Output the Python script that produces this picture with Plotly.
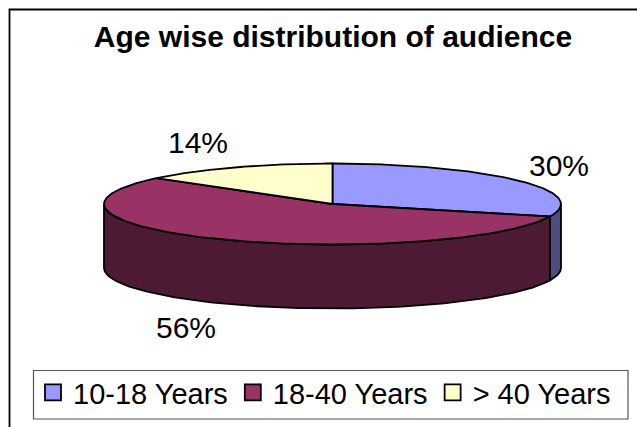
import numpy as np
import plotly.graph_objects as go

categories = ["10-18 Years", "18-40 Years", "> 40 Years"]
shares = [30, 56, 14]
top_colors = ["#9999FF", "#993366", "#FFFFCC"]
side_colors = ["#4D4D80", "#4D1A33", "#80805F"]
title = "Age wise distribution of audience"

W, H = 637, 427
cx, cy, rx, ry, depth = 332.5, 204, 228.5, 40.5, 64
FONT = "Liberation Sans, Arial, sans-serif"
LINE = dict(color="black", width=1.8)


def rim(t):
    return cx + rx * np.sin(t), cy - ry * np.cos(t)


fig = go.Figure()
fracs = np.cumsum([0] + shares) / sum(shares) * 2 * np.pi

# side walls: only the front half of the rim is visible
for i in range(len(shares)):
    a, b = max(fracs[i], np.pi / 2), min(fracs[i + 1], 3 * np.pi / 2)
    if b <= a:
        continue
    t = np.linspace(a, b, 120)
    x, y = rim(t)
    fig.add_trace(go.Scatter(
        x=np.r_[x, x[::-1], x[0]], y=np.r_[y, y[::-1] + depth, y[0]],
        mode="lines", fill="toself", fillcolor=side_colors[i], line=LINE,
        showlegend=False, hoverinfo="skip"))

# top faces
for i in range(len(shares)):
    t = np.linspace(fracs[i], fracs[i + 1], 200)
    x, y = rim(t)
    fig.add_trace(go.Scatter(
        x=np.r_[cx, x, cx], y=np.r_[cy, y, cy],
        mode="lines", fill="toself", fillcolor=top_colors[i], line=LINE,
        showlegend=False, hoverinfo="skip"))

# percent labels
label_x, label_y = [559, 186, 198], [168, 330, 145]
fig.add_trace(go.Scatter(
    x=label_x, y=label_y, mode="text",
    text=[f"{v}%" for v in shares],
    textfont=dict(family=FONT, size=30, color="black"),
    showlegend=False, hoverinfo="skip"))

# legend entries
for name, c in zip(categories, top_colors):
    fig.add_trace(go.Scatter(
        x=[None], y=[None], mode="markers", name=name,
        marker=dict(symbol="square", size=17, color=c,
                    line=dict(color="black", width=1.8))))

fig.update_layout(
    width=W, height=H, autosize=False,
    margin=dict(l=0, r=0, t=0, b=0),
    paper_bgcolor="white", plot_bgcolor="white",
    xaxis=dict(range=[0, W], visible=False, fixedrange=True),
    yaxis=dict(range=[H, 0], visible=False, fixedrange=True),
    title=dict(text=f"<b>{title}</b>", x=333 / W, xanchor="center",
               y=1 - 36 / H, yanchor="middle",
               font=dict(family=FONT, size=30, color="black")),
    legend=dict(orientation="h", x=33 / W, xanchor="left", y=1 - 367 / H, yanchor="top",
                bgcolor="rgba(0,0,0,0)", borderwidth=0,
                font=dict(family=FONT, size=29, color="black"),
                itemwidth=30, traceorder="normal"),
    shapes=[
        dict(type="rect", xref="x", yref="y", x0=9.5, y0=9.5, x1=700, y1=500,
             line=dict(color="black", width=1.8), layer="below"),
        dict(type="rect", xref="x", yref="y", x0=33.5, y0=370.5, x1=628, y1=419,
             line=dict(color="#555555", width=1.2), fillcolor="white", layer="below"),
    ],
)
fig.write_html("out.html", config=dict(displayModeBar=False),
               post_script="document.body.style.margin='0';document.body.style.overflow='hidden';")
